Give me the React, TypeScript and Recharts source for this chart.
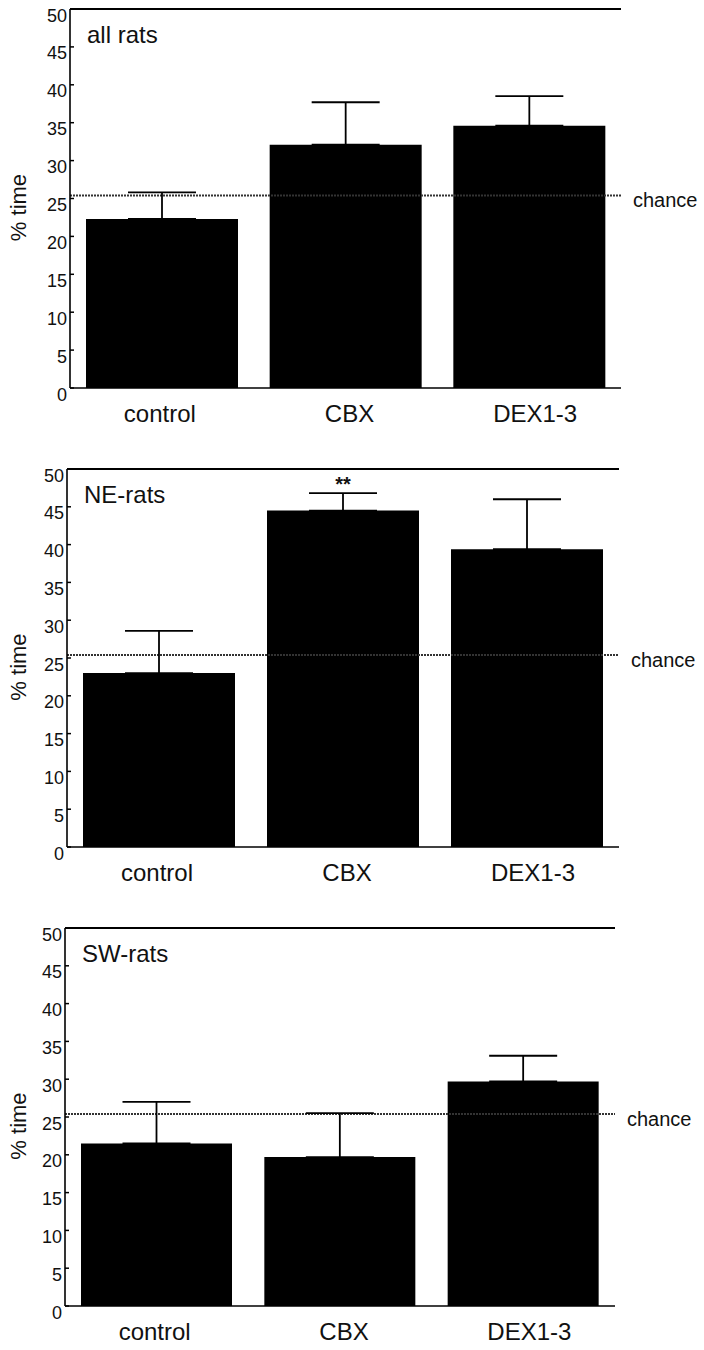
import React from 'react';
import {
  BarChart,
  Bar,
  XAxis,
  YAxis,
  ErrorBar,
  ReferenceLine,
  ReferenceDot,
} from 'recharts';

// ---- data ----
const categories = ['control', 'CBX', 'DEX1-3'];
const yTicks = [0, 5, 10, 15, 20, 25, 30, 35, 40, 45, 50];
const yMax = 50;
const chanceLevel = 25.4;

const allRatsMean = [22.3, 32.1, 34.6];
const allRatsErr = [3.5, 5.6, 3.9];

const neRatsMean = [23.0, 44.5, 39.4];
const neRatsErr = [5.6, 2.3, 6.6];
const neRatsSig = ['', '**', ''];
const neSigLevel = 48.6;

const swRatsMean = [21.5, 19.7, 29.7];
const swRatsErr = [5.5, 5.8, 3.4];

const FONT = '"Liberation Sans", Arial, Helvetica, sans-serif';
const labelDx = [-2, 4, 6];

const buildRows = (means: number[], errs: number[]) =>
  categories.map((name, i) => ({ name, mean: means[i], err: [0, errs[i]] }));

const YTick = (props: any) => {
  const { x, y, payload } = props;
  return (
    <g>
      <line x1={x} x2={x + 4} y1={y} y2={y} stroke="#000" strokeWidth={1.5} />
      <text
        x={x - 3}
        y={y + 12.5}
        textAnchor="end"
        fontSize={18}
        fontFamily={FONT}
        fill="#111"
      >
        {payload.value}
      </text>
    </g>
  );
};

const XTick = (props: any) => {
  const { x, y, payload, index } = props;
  return (
    <text
      x={x + (labelDx[index] || 0)}
      y={y + 34}
      textAnchor="middle"
      fontSize={24}
      fontFamily={FONT}
      fill="#111"
    >
      {payload.value}
    </text>
  );
};

type PanelProps = {
  title: string;
  means: number[];
  errs: number[];
  sig?: string[];
  sigLevel?: number;
  top: number;
  height: number;
  plotLeft: number;
  plotRight: number;
  marginTop: number;
  marginBottom: number;
};

const Panel = (p: PanelProps) => {
  const rows = buildRows(p.means, p.errs);
  return (
    <div style={{ position: 'absolute', left: 0, top: p.top, width: 704, height: p.height }}>
      <BarChart
        width={704}
        height={p.height}
        data={rows}
        barCategoryGap={16}
        margin={{ top: p.marginTop, right: 704 - p.plotRight, bottom: p.marginBottom, left: 0 }}
      >
        <XAxis
          dataKey="name"
          height={40}
          tickSize={0}
          tickMargin={0}
          tickLine={false}
          axisLine={{ stroke: '#000', strokeWidth: 1.6 }}
          tick={<XTick />}
          interval={0}
        />
        <YAxis
          width={p.plotLeft}
          domain={[0, yMax]}
          ticks={yTicks}
          interval={0}
          tickSize={0}
          tickMargin={0}
          tickLine={false}
          axisLine={{ stroke: '#000', strokeWidth: 1.6 }}
          tick={<YTick />}
          label={(lp: any) => {
            const vb = lp.viewBox || {};
            const cy = (vb.y || 0) + (vb.height || 0) / 2 + 9;
            return (
              <text
                x={18}
                y={cy}
                transform={`rotate(-90, 18, ${cy})`}
                textAnchor="middle"
                dominantBaseline="central"
                fontSize={22}
                fontFamily={FONT}
                fill="#111"
              >
                % time
              </text>
            );
          }}
        />
        <YAxis
          yAxisId="right"
          orientation="right"
          width={0}
          domain={[0, yMax]}
          tick={false}
          tickLine={false}
          axisLine={{ stroke: '#000', strokeWidth: 1.6 }}
        />
        <ReferenceLine
          y={chanceLevel}
          stroke="#333"
          strokeWidth={2}
          strokeDasharray="2 1"
          label={(lp: any) => {
            const vb = lp.viewBox || {};
            return (
              <text
                x={(vb.x || 0) + (vb.width || 0) + 12}
                y={(vb.y || 0) + 12}
                fontSize={20}
                fontFamily={FONT}
                fill="#111"
              >
                chance
              </text>
            );
          }}
        />
        <ReferenceLine
          y={yMax}
          stroke="#000"
          strokeWidth={1.8}
          label={(lp: any) => {
            const vb = lp.viewBox || {};
            return (
              <text
                x={(vb.x || 0) + 17}
                y={(vb.y || 0) + 34}
                fontSize={24}
                fontFamily={FONT}
                fill="#111"
              >
                {p.title}
              </text>
            );
          }}
        />
        <Bar dataKey="mean" fill="#000" isAnimationActive={false}>
          <ErrorBar
            dataKey="err"
            direction="y"
            width={34}
            stroke="#000"
            strokeWidth={1.8}
            isAnimationActive={false}
          />
        </Bar>
        {p.sig &&
          p.sig.map((s, i) =>
            s ? (
              <ReferenceDot
                key={i}
                x={categories[i]}
                y={p.sigLevel}
                r={1}
                fill="none"
                stroke="none"
                label={(lp: any) => {
                  const vb = lp.viewBox || {};
                  const cx = (vb.x || 0) + (vb.width || 0) / 2;
                  const cy = (vb.y || 0) + (vb.height || 0) / 2;
                  return (
                    <text
                      x={cx}
                      y={cy + 11.5}
                      textAnchor="middle"
                      fontSize={20}
                      fontWeight="bold"
                      fontFamily={FONT}
                      fill="#111"
                    >
                      {s}
                    </text>
                  );
                }}
              />
            ) : null
          )}
      </BarChart>
    </div>
  );
}

export default function App() {
  return (
    <div
      style={{
        position: 'absolute',
        left: 0,
        top: 0,
        width: 704,
        height: 1350,
        background: '#fff',
        fontFamily: FONT,
      }}
    >
      <Panel
        title="all rats"
        means={allRatsMean}
        errs={allRatsErr}
        top={0}
        height={440}
        plotLeft={70}
        plotRight={621}
        marginTop={9}
        marginBottom={12}
      />
      <Panel
        title="NE-rats"
        means={neRatsMean}
        errs={neRatsErr}
        sig={neRatsSig}
        sigLevel={neSigLevel}
        top={440}
        height={450}
        plotLeft={67}
        plotRight={619}
        marginTop={29}
        marginBottom={3}
      />
      <Panel
        title="SW-rats"
        means={swRatsMean}
        errs={swRatsErr}
        top={890}
        height={460}
        plotLeft={65}
        plotRight={615}
        marginTop={38}
        marginBottom={4}
      />
    </div>
  );
}
